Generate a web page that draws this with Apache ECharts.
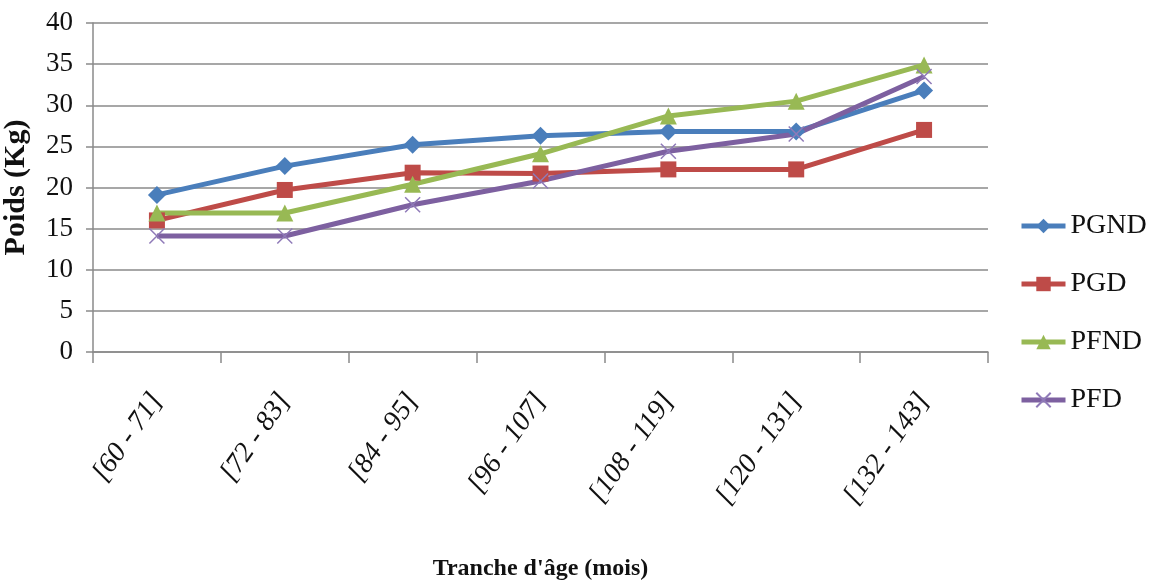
<!DOCTYPE html>
<html><head><meta charset="utf-8">
<script src="https://cdn.jsdelivr.net/npm/echarts@6/dist/echarts.min.js"></script>
<style>html,body{margin:0;padding:0;background:#fff}#c{width:1160px;height:584px}</style>
</head><body><div id="c"></div>
<script>
const categories = ['[60 - 71]','[72 - 83]','[84 - 95]','[96 - 107]','[108 - 119]','[120 - 131]','[132 - 143]'];
const PGND = [19.1, 22.6, 25.2, 26.3, 26.8, 26.8, 31.8];
const PGD  = [16.0, 19.7, 21.8, 21.7, 22.2, 22.2, 27.0];
const PFND = [16.9, 16.9, 20.4, 24.1, 28.7, 30.5, 34.9];
const PFD  = [14.1, 14.1, 17.9, 20.8, 24.4, 26.5, 33.5];
const yTicks = [0,5,10,15,20,25,30,35,40];

const serif = '"Liberation Serif","DejaVu Serif",serif';
const xPath = 'path://M0,0 L10,10 M10,0 L0,10';
function mk(name, data, color, symbol, size, extra){
  return Object.assign({
    name, type:'line', data, symbol, symbolSize:size,
    lineStyle:{color, width:5},
    itemStyle:{color},
    showAllSymbol:true
  }, extra||{});
}
const chart = echarts.init(document.getElementById('c'));
chart.setOption({
  animation:false,
  grid:{left:93, right:172, top:23, bottom:232, outerBoundsMode:'none', containLabel:false},
  legend:{
    orient:'vertical', left:1014, top:207, itemGap:30, itemWidth:44, itemHeight:18,
    lineStyle:{width:5},
    textStyle:{fontFamily:serif, fontSize:28, color:'#111'},
    data:['PGND','PGD','PFND','PFD']
  },
  xAxis:{
    type:'category', data:categories, boundaryGap:true,
    axisLine:{show:true, lineStyle:{color:'#8a8a8a', width:1.5}},
    axisTick:{show:true, length:11, alignWithLabel:false, lineStyle:{color:'#8a8a8a', width:1.5}},
    axisLabel:{rotate:55, margin:44, fontFamily:serif, fontStyle:'italic', fontSize:28, color:'#111', interval:0},
    name:"Tranche d'âge (mois)", nameLocation:'middle', nameGap:205,
    nameTextStyle:{fontFamily:serif, fontWeight:'bold', fontSize:24, color:'#111'}
  },
  yAxis:{
    type:'value', min:0, max:40, interval:5,
    axisLine:{show:true, lineStyle:{color:'#8a8a8a', width:1.5}},
    axisTick:{show:true, length:7, lineStyle:{color:'#8a8a8a', width:1.5}},
    splitLine:{show:true, lineStyle:{color:'#8a8a8a', width:1.5}},
    axisLabel:{margin:20, fontFamily:serif, fontSize:27, color:'#111',
      formatter:v=>yTicks.includes(v)?String(v):''},
    name:'Poids (Kg)', nameLocation:'middle', nameGap:62,
    nameTextStyle:{fontFamily:serif, fontWeight:'bold', fontSize:30, color:'#111'}
  },
  series:[
    mk('PGND', PGND, '#4a7ebb', 'diamond', 18),
    mk('PGD', PGD, '#be4b48', 'rect', 16),
    mk('PFND', PFND, '#98b954', 'triangle', 17),
    mk('PFD', PFD, '#7d60a0', xPath, 15, {itemStyle:{color:'#8f7ab8', borderColor:'#8f7ab8', borderWidth:1.5}})
  ]
});
</script></body></html>
